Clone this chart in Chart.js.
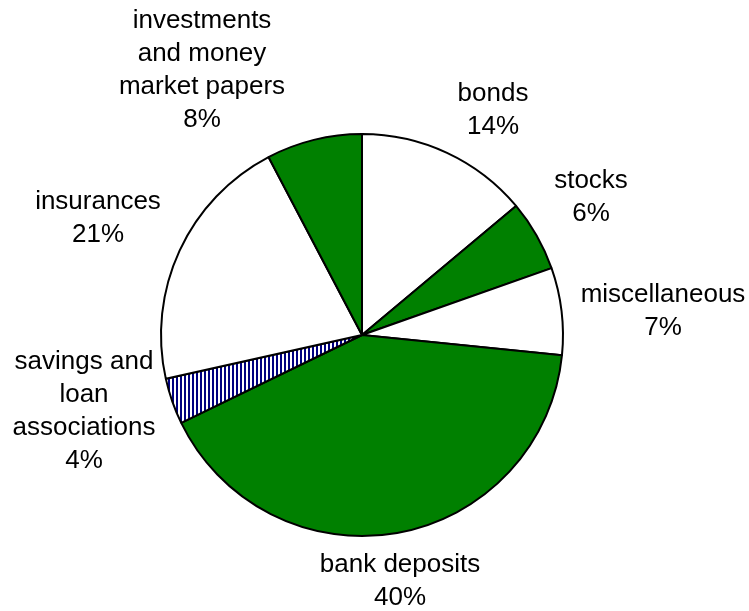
<!DOCTYPE html>
<html>
<head>
<meta charset="utf-8">
<script src="https://cdn.jsdelivr.net/npm/chart.js@4"></script>
<style>
  html, body { margin: 0; padding: 0; background: #ffffff; }
  #wrap { width: 749px; height: 611px; }
</style>
</head>
<body>
<div id="wrap"><canvas id="pieChart" width="749" height="611"></canvas></div>
<script>
// Dados do gráfico (sentido horário a partir do topo)
const categories = ['bonds', 'stocks', 'miscellaneous', 'bank deposits', 'savings and loan associations', 'insurances', 'investments and money market papers'];
// Tamanho das fatias, medido pelos ângulos da figura
const shares = [13.9, 5.7, 7.0, 41.2, 3.7, 20.8, 7.7];
// Percentuais impressos nos rótulos
const printedPct = ['14%', '6%', '7%', '40%', '4%', '21%', '8%'];
// Linhas de texto de cada rótulo
const labelLines = [
    ['bonds'],
    ['stocks'],
    ['miscellaneous'],
    ['bank deposits'],
    ['savings and', 'loan', 'associations'],
    ['insurances'],
    ['investments', 'and money', 'market papers']
];

// Padrão hachurado (listras verticais azul-marinho)
function makeStripes() {
    const c = document.createElement('canvas');
    c.width = 4;
    c.height = 4;
    const g = c.getContext('2d');
    g.fillStyle = '#ffffff';
    g.fillRect(0, 0, 4, 4);
    g.fillStyle = '#000080';
    g.fillRect(0, 0, 2, 4);
    return g.createPattern(c, 'repeat');
}

const stripes = makeStripes();
const fills = ['#ffffff', '#008000', '#ffffff', '#008000', stripes, '#ffffff', '#008000'];

// Posição do centro e da primeira linha de base de cada rótulo
const labelPos = [
    { x: 493, y: 101 },
    { x: 591, y: 188 },
    { x: 663, y: 302 },
    { x: 400, y: 572 },
    { x: 84, y: 369 },
    { x: 98, y: 209 },
    { x: 202, y: 28 }
];

const outsideLabels = {
    id: 'outsideLabels',
    afterDraw(chart) {
        const ctx = chart.ctx;
        ctx.save();
        ctx.fillStyle = '#000000';
        ctx.font = '26px "Liberation Sans", Arial, sans-serif';
        ctx.textAlign = 'center';
        ctx.textBaseline = 'alphabetic';
        labelLines.forEach((lines, i) => {
            const all = lines.concat([printedPct[i]]);
            all.forEach((txt, j) => {
                ctx.fillText(txt, labelPos[i].x, labelPos[i].y + j * 33);
            });
        });
        ctx.restore();
    }
};

const ctx = document.getElementById('pieChart');
new Chart(ctx, {
    type: 'pie',
    data: {
        labels: categories,
        datasets: [{
            data: shares,
            backgroundColor: fills,
            borderColor: '#000000',
            borderWidth: 2,
            borderAlign: 'center'
        }]
    },
    options: {
        responsive: false,
        animation: false,
        layout: {
            padding: { left: 160, right: 185, top: 133, bottom: 74 }
        },
        plugins: {
            legend: { display: false },
            tooltip: { enabled: false }
        }
    },
    plugins: [outsideLabels]
});
</script>
</body>
</html>
